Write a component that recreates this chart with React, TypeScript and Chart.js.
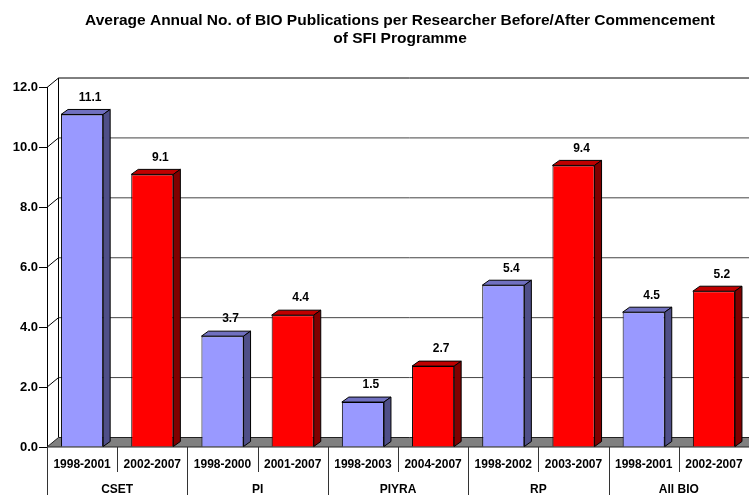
import React, { useEffect, useRef } from 'react';
import { Chart, registerables } from 'chart.js';

Chart.register(...registerables);

const titleLines = [
  'Average Annual No. of BIO Publications per Researcher Before/After Commencement',
  'of SFI Programme',
];
const periods = [
  '1998-2001', '2002-2007',
  '1998-2000', '2001-2007',
  '1998-2003', '2004-2007',
  '1998-2002', '2003-2007',
  '1998-2001', '2002-2007',
];
const groups = ['CSET', 'PI', 'PIYRA', 'RP', 'All BIO'];
const values = [11.1, 9.1, 3.7, 4.4, 1.5, 2.7, 5.4, 9.4, 4.5, 5.2];
const yTicks = [0, 2, 4, 6, 8, 10, 12];

const FONT = 'Arial, "Liberation Sans", sans-serif';
const FRONT = ['#9999FF', '#FF0000'];
const TOP = ['#7070C0', '#C00000'];
const SIDE = ['#4F4F88', '#800000'];
const WALL_DX = 11.5;
const WALL_DY = -9.5;
const BAR_DX = 7;
const BAR_DY = -5;

const poly = (ctx: CanvasRenderingContext2D, pts: number[][], fill: string, stroke: string) => {
  ctx.beginPath();
  ctx.moveTo(pts[0][0], pts[0][1]);
  for (let i = 1; i < pts.length; i++) ctx.lineTo(pts[i][0], pts[i][1]);
  ctx.closePath();
  ctx.fillStyle = fill;
  ctx.fill();
  ctx.strokeStyle = stroke;
  ctx.lineWidth = 1;
  ctx.stroke();
};

const threeD = {
  id: 'threeD',
  beforeDatasetsDraw(chart: any) {
    const { ctx, chartArea, scales } = chart;
    const { left, right } = chartArea;
    const y = scales.y;
    const y0 = y.getPixelForValue(0);
    const yTop = y.getPixelForValue(yTicks[yTicks.length - 1]);
    ctx.save();
    ctx.lineWidth = 1;
    yTicks.forEach((v) => {
      if (v === 0) return;
      const yy = y.getPixelForValue(v);
      ctx.strokeStyle = '#000';
      ctx.beginPath();
      ctx.moveTo(left, yy);
      ctx.lineTo(left + WALL_DX, yy + WALL_DY);
      ctx.stroke();
      ctx.strokeStyle = v === 12 ? '#000' : '#444';
      ctx.beginPath();
      ctx.moveTo(left + WALL_DX, yy + WALL_DY);
      ctx.lineTo(right + WALL_DX, yy + WALL_DY);
      ctx.stroke();
    });
    ctx.strokeStyle = '#000';
    ctx.beginPath();
    ctx.moveTo(left + WALL_DX, yTop + WALL_DY);
    ctx.lineTo(left + WALL_DX, y0 + WALL_DY);
    ctx.stroke();
    poly(ctx, [
      [left, y0], [right, y0], [right + WALL_DX, y0 + WALL_DY], [left + WALL_DX, y0 + WALL_DY],
    ], '#808080', '#222');
    ctx.restore();
  },
  afterDatasetsDraw(chart: any) {
    const { ctx } = chart;
    const meta = chart.getDatasetMeta(0);
    ctx.save();
    meta.data.forEach((bar: any, i: number) => {
      const { x, y, base, width } = bar.getProps(['x', 'y', 'base', 'width'], true);
      const l = x - width / 2;
      const r = x + width / 2;
      const c = i % 2;
      poly(ctx, [[l, y], [r, y], [r + BAR_DX, y + BAR_DY], [l + BAR_DX, y + BAR_DY]], TOP[c], '#000');
      poly(ctx, [[r, y], [r + BAR_DX, y + BAR_DY], [r + BAR_DX, base + BAR_DY], [r, base]], SIDE[c], '#000');
      ctx.fillStyle = '#000';
      ctx.font = `bold 12px ${FONT}`;
      ctx.textAlign = 'center';
      ctx.textBaseline = 'middle';
      ctx.fillText(values[i].toFixed(1), x + 8, y - 17);
    });
    ctx.restore();
  },
  afterDraw(chart: any) {
    const { ctx, scales } = chart;
    const x = scales.x;
    const x2 = scales.x2;
    const y0 = scales.y.getPixelForValue(0);
    ctx.save();
    ctx.strokeStyle = '#333';
    ctx.lineWidth = 1;
    for (let i = 0; i <= periods.length; i++) {
      const xb = Math.round(x.getPixelForValue(i - 0.5)) + 0.5;
      const long = i % 2 === 0;
      ctx.beginPath();
      ctx.moveTo(xb, y0);
      ctx.lineTo(xb, long ? x2.bottom : x.bottom);
      ctx.stroke();
    }
    ctx.restore();
  },
};

export default function App() {
  const ref = useRef<HTMLCanvasElement>(null);
  useEffect(() => {
    if (!ref.current) return;
    const chart = new Chart(ref.current, {
      type: 'bar',
      data: {
        labels: periods,
        datasets: [
          {
            data: values,
            backgroundColor: values.map((_, i) => FRONT[i % 2]),
            borderColor: '#000',
            borderWidth: 1,
            barPercentage: 0.6,
            categoryPercentage: 1,
          },
        ],
      },
      options: {
        animation: false,
        responsive: false,
        devicePixelRatio: 1,
        layout: { padding: 0 },
        plugins: {
          legend: { display: false },
          tooltip: { enabled: false },
          title: {
            display: true,
            text: titleLines,
            color: '#000',
            font: { family: FONT, size: 15.5, weight: 'bold', lineHeight: 18 / 15.5 },
            padding: { top: 12, bottom: 39.5 },
          },
        },
        scales: {
          x: {
            type: 'category',
            labels: periods,
            offset: true,
            weight: 0,
            grid: { display: false, drawTicks: false },
            border: { display: false },
            ticks: {
              color: '#000',
              font: { family: FONT, size: 12, weight: 'bold' },
              padding: 10,
              maxRotation: 0,
              autoSkip: false,
            },
            afterFit: (s: any) => { s.height = 25; },
          },
          x2: {
            type: 'category',
            labels: groups,
            position: 'bottom',
            offset: true,
            weight: 1,
            grid: { display: false, drawTicks: false },
            border: { display: false },
            ticks: {
              color: '#000',
              font: { family: FONT, size: 12, weight: 'bold' },
              padding: 10,
              maxRotation: 0,
              autoSkip: false,
            },
            afterFit: (s: any) => { s.height = 23; },
          },
          y: {
            min: 0,
            max: 12,
            ticks: {
              stepSize: 2,
              color: '#000',
              font: { family: FONT, size: 13, weight: 'bold' },
              padding: 1,
              callback: (v: any) => Number(v).toFixed(1),
            },
            grid: { drawOnChartArea: false, drawTicks: true, tickLength: 8, color: '#000' },
            border: { display: true, color: '#000' },
            afterFit: (s: any) => { s.width = 47; },
          },
          yRight: {
            type: 'linear',
            position: 'right',
            display: true,
            grid: { display: false, drawTicks: false },
            border: { display: false },
            ticks: { display: false },
            afterFit: (s: any) => { s.width = 51; },
          },
        },
      },
      plugins: [threeD],
    } as any);
    return () => chart.destroy();
  }, []);
  return (
    <div style={{ position: 'fixed', left: 0, top: 0, width: 749, height: 495, overflow: 'hidden', background: '#fff' }}>
      <canvas ref={ref} width={800} height={495} style={{ display: 'block' }} />
    </div>
  );
}
